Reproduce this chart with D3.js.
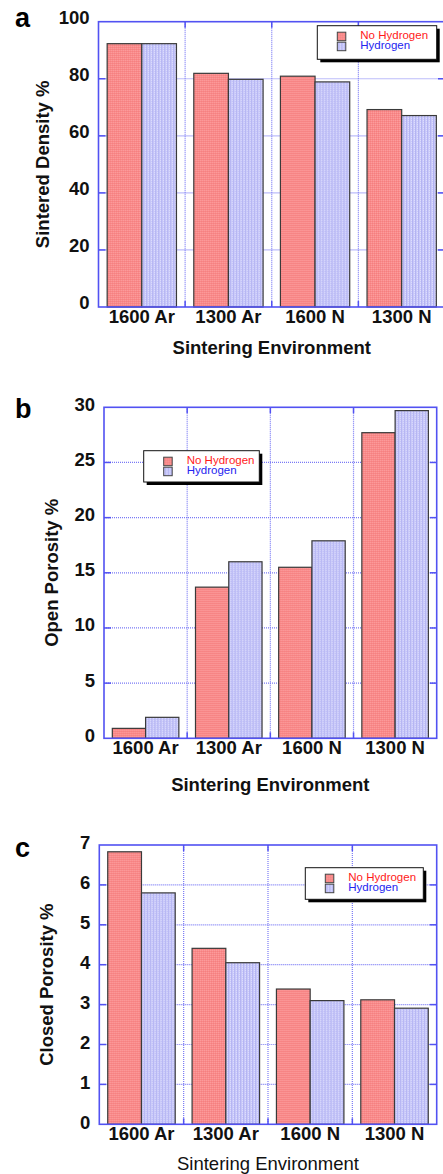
<!DOCTYPE html>
<html>
<head>
<meta charset="utf-8">
<script src="https://cdn.jsdelivr.net/npm/d3@7"></script>
<style>
body { margin: 0; background: #fff; }
svg text { font-family: "Liberation Sans", Arial, Helvetica, sans-serif; }
</style>
</head>
<body>
<div id="chart"></div>
<script>
const categories = ["1600 Ar", "1300 Ar", "1600 N", "1300 N"];
const seriesNames = ["No Hydrogen", "Hydrogen"];

const densityNoH = [92.3, 81.9, 80.9, 69.2];
const densityH = [92.3, 79.8, 78.9, 67.1];
const densityTicks = [0, 20, 40, 60, 80, 100];

const openNoH = [0.9, 13.7, 15.5, 27.7];
const openH = [1.9, 16.0, 17.9, 29.7];
const openTicks = [0, 5, 10, 15, 20, 25, 30];

const closedNoH = [6.83, 4.41, 3.39, 3.12];
const closedH = [5.80, 4.05, 3.10, 2.91];
const closedTicks = [0, 1, 2, 3, 4, 5, 6, 7];

const width = 443, height = 1174;
const svg = d3.select("#chart").append("svg").attr("width", width).attr("height", height);

// dotted textures like the original bars
let defs = svg.append("defs");
let redPat = defs.append("pattern").attr("id", "redFill")
    .attr("patternUnits", "userSpaceOnUse").attr("width", 2).attr("height", 2);
redPat.append("rect").attr("width", 2).attr("height", 2).attr("fill", "#f98a8a");
redPat.append("rect").attr("width", 1).attr("height", 1).attr("fill", "#fb9d9d");
redPat.append("rect").attr("x", 1).attr("y", 1).attr("width", 1).attr("height", 1).attr("fill", "#f47f7f");

let bluePat = defs.append("pattern").attr("id", "blueFill")
    .attr("patternUnits", "userSpaceOnUse").attr("width", 3).attr("height", 2);
bluePat.append("rect").attr("width", 3).attr("height", 2).attr("fill", "#c9c9f9");
bluePat.append("rect").attr("width", 1).attr("height", 2).attr("fill", "#b2b2f2");
bluePat.append("rect").attr("x", 2).attr("width", 1).attr("height", 1).attr("fill", "#dedefd");

const fills = ["url(#redFill)", "url(#blueFill)"];
const legendText = ["#ff1a1a", "#2424f0"];
const frameColor = "#5252f2";
const gridColor = "#7a7af5";

const panels = [
    { label: "a", labelY: 27, noH: densityNoH, h: densityH, ticks: densityTicks, yTitle: "Sintered Density %",
      left: 98.5, right: 445, top: 21.7, bottom: 307, yTitleX: 48.5, tickDy: -4.5,
      xTitleY: 354, xTitleBold: true, legend: [317.3, 25.7, 119.4, 33.6] },
    { label: "b", labelY: 418, noH: openNoH, h: openH, ticks: openTicks, yTitle: "Open Porosity %",
      left: 104, right: 436.7, top: 407.3, bottom: 738.3, yTitleX: 58, tickDy: -3,
      xTitleY: 791, xTitleBold: true, legend: [143.7, 450.7, 115.6, 31.3] },
    { label: "c", labelY: 857, noH: closedNoH, h: closedH, ticks: closedTicks, yTitle: "Closed Porosity %",
      left: 99.3, right: 436.7, top: 845, bottom: 1124.3, yTitleX: 52.5, tickDy: -2,
      xTitleY: 1170, xTitleBold: false, legend: [305.3, 867.7, 118, 31.6] }
];

function drawPanel(p) {
    let g = svg.append("g");
    let x0 = d3.scaleBand().domain(categories).range([p.left, p.right]).paddingInner(0.2).paddingOuter(0.1);
    let x1 = d3.scaleBand().domain(seriesNames).range([0, x0.bandwidth()]);
    let y = d3.scaleLinear().domain([0, d3.max(p.ticks)]).range([p.bottom, p.top]);
    let bounds = d3.range(1, categories.length).map(i => x0(categories[i]) - x0.step() * 0.1);

    // dotted grid
    g.selectAll(".hgrid").data(p.ticks.slice(1, -1)).enter().append("line")
        .attr("x1", p.left).attr("x2", p.right)
        .attr("y1", d => y(d)).attr("y2", d => y(d))
        .attr("stroke", gridColor).attr("stroke-width", 1.2).attr("stroke-dasharray", "1,1");
    g.selectAll(".vgrid").data(bounds).enter().append("line")
        .attr("x1", d => d).attr("x2", d => d)
        .attr("y1", p.top).attr("y2", p.bottom)
        .attr("stroke", gridColor).attr("stroke-width", 1.2).attr("stroke-dasharray", "1,1");

    // short inward ticks on every side
    p.ticks.slice(1, -1).forEach(t => {
        g.append("line").attr("x1", p.left).attr("x2", p.left + 7).attr("y1", y(t)).attr("y2", y(t))
            .attr("stroke", frameColor).attr("stroke-width", 1.5);
        g.append("line").attr("x1", p.right - 7).attr("x2", p.right).attr("y1", y(t)).attr("y2", y(t))
            .attr("stroke", frameColor).attr("stroke-width", 1.5);
    });
    bounds.forEach(b => {
        g.append("line").attr("x1", b).attr("x2", b).attr("y1", p.top).attr("y2", p.top + 6)
            .attr("stroke", frameColor).attr("stroke-width", 1.5);
        g.append("line").attr("x1", b).attr("x2", b).attr("y1", p.bottom - 6).attr("y2", p.bottom)
            .attr("stroke", frameColor).attr("stroke-width", 1.5);
    });

    // bars
    let rows = categories.map((c, i) => ({ cat: c, vals: [p.noH[i], p.h[i]] }));
    g.selectAll(".grp").data(rows).enter().append("g")
        .attr("transform", d => `translate(${x0(d.cat)},0)`)
        .selectAll("rect").data(d => d.vals.map((v, k) => ({ key: seriesNames[k], v: v, k: k })))
        .enter().append("rect")
        .attr("x", d => x1(d.key))
        .attr("y", d => y(d.v))
        .attr("width", x1.bandwidth())
        .attr("height", d => y(0) - y(d.v))
        .attr("fill", d => fills[d.k])
        .attr("stroke", "#3a3a3a")
        .attr("stroke-width", 1.2);

    // frame
    g.append("rect").attr("x", p.left).attr("y", p.top)
        .attr("width", p.right - p.left).attr("height", p.bottom - p.top)
        .attr("fill", "none").attr("stroke", frameColor).attr("stroke-width", 1.6);

    // y tick labels
    let ya = g.append("g").attr("transform", `translate(${p.left},${p.tickDy})`)
        .call(d3.axisLeft(y).tickValues(p.ticks).tickSize(0).tickPadding(9).tickFormat(d3.format("d")));
    ya.select(".domain").remove();
    ya.selectAll("text").attr("font-size", 18.5).attr("font-weight", "bold").attr("fill", "#111")
        .style("font-family", "'Liberation Sans', Arial, sans-serif");

    // x tick labels
    let xa = g.append("g").attr("transform", `translate(0,${p.bottom})`)
        .call(d3.axisBottom(x0).tickSize(0).tickPadding(3));
    xa.select(".domain").remove();
    xa.selectAll("text").attr("font-size", 18.5).attr("font-weight", "bold").attr("fill", "#111")
        .style("font-family", "'Liberation Sans', Arial, sans-serif");

    // axis titles
    g.append("text")
        .attr("x", (p.left + Math.min(p.right, 445)) / 2)
        .attr("y", p.xTitleY)
        .attr("text-anchor", "middle")
        .attr("font-size", 18.5)
        .attr("font-weight", p.xTitleBold ? "bold" : "normal")
        .attr("fill", "#111")
        .text("Sintering Environment");
    g.append("text")
        .attr("transform", `translate(${p.yTitleX},${(p.top + p.bottom) / 2}) rotate(-90)`)
        .attr("text-anchor", "middle")
        .attr("font-size", 18.5)
        .attr("font-weight", "bold")
        .attr("fill", "#111")
        .text(p.yTitle);

    // panel letter
    g.append("text").attr("x", 15).attr("y", p.labelY)
        .attr("font-size", 27).attr("font-weight", "bold").attr("fill", "#000")
        .text(p.label);

    // legend
    let [lx, ly, lw, lh] = p.legend;
    let lg = g.append("g").attr("transform", `translate(${lx},${ly})`);
    lg.append("rect").attr("x", 3).attr("y", 3).attr("width", lw).attr("height", lh).attr("fill", "#000");
    lg.append("rect").attr("width", lw).attr("height", lh).attr("fill", "#fff")
        .attr("stroke", "#111").attr("stroke-width", 1);
    seriesNames.forEach((s, k) => {
        lg.append("rect").attr("x", 20).attr("y", 6.5 + k * 10).attr("width", 8.5).attr("height", 8.5)
            .attr("fill", fills[k]).attr("stroke", "#444").attr("stroke-width", 1);
        lg.append("text").attr("x", 43).attr("y", 13.5 + k * 10)
            .attr("font-size", 11.5).attr("fill", legendText[k]).text(s);
    });
}

panels.forEach(drawPanel);
</script>
</body>
</html>
